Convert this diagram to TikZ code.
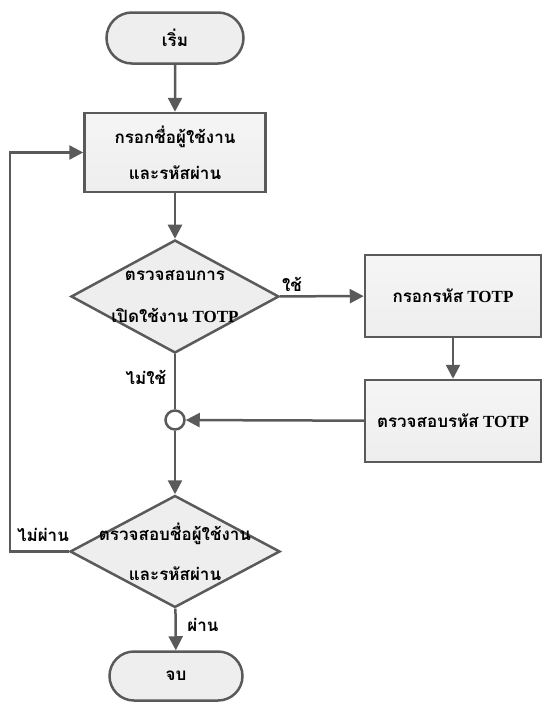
\documentclass[tikz,border=0pt]{standalone}
\usepackage{fontspec}
\setmainfont{Liberation Serif}
\newfontfamily\thaifont[Script=Thai]{Loma}
\usetikzlibrary{arrows.meta,positioning,shapes.geometric,shapes.misc}
\definecolor{flowgray}{HTML}{5A5A5A}
\definecolor{flowfill}{HTML}{EEEEEE}
\newcommand{\thai}[1]{{\thaifont #1}}
\tikzset{terminal/.style={rounded rectangle,draw=flowgray,fill=flowfill,
 line width=2.5pt,minimum width=137pt,minimum height=51pt,inner sep=0pt},
 stepbox/.style={rectangle,draw=flowgray,top color=flowfill!60,bottom color=flowfill,
 line width=2.5pt,minimum width=181pt,minimum height=79pt,inner sep=0pt},
 decision/.style={diamond,draw=flowgray,fill=flowfill,line width=2.5pt,
 minimum width=208pt,minimum height=113pt,inner sep=0pt},
 junction/.style={circle,draw=flowgray,fill=white,line width=2.5pt,
 minimum size=19pt,inner sep=0pt},
 flowtext/.style={font=\bfseries\fontsize{17}{36}\selectfont,align=center,text=black},
 choice/.style={font=\bfseries\fontsize{17}{20}\selectfont,text=black,inner sep=0pt},
 flow/.style={draw=flowgray,line width=2.5pt,-{Triangle[length=14pt,width=14pt]}},
 link/.style={draw=flowgray,line width=2.5pt}}

\begin{document}
\begin{tikzpicture}[x=1pt,y=-1pt]
 \useasboundingbox (0,0) rectangle (546,704);
 \node[terminal,flowtext] (start) at (175,38) {\thai{เริ่ม}};
 \node[stepbox,flowtext] (login) at (175,152.5)
  {\thai{กรอกชื่อผู้ใช้งาน}\\\thai{และรหัสผ่าน}};
 \node[decision] (checktotp) at (175,296.5) {};
 \node[flowtext,font=\bfseries\fontsize{17}{42}\selectfont] (checktotptext) at (checktotp)
  {\thai{ตรวจสอบการ}\\\thai{เปิดใช้งาน} TOTP};
 \node[stepbox,flowtext,minimum width=176pt,minimum height=82pt] (entertotp) at (453,296)
  {\thai{กรอกรหัส} TOTP};
 \node[stepbox,flowtext,minimum width=176pt,minimum height=82pt] (verifytotp) at (453,421)
  {\thai{ตรวจสอบรหัส} TOTP};
 \node[junction] (join) at (175,420) {};
 \node[decision,minimum width=210pt,minimum height=112pt] (checklogin) at (175,551.5) {};
 \node[flowtext,font=\bfseries\fontsize{17}{40}\selectfont] (checklogintext) at (checklogin)
  {\thai{ตรวจสอบชื่อผู้ใช้งาน}\\\thai{และรหัสผ่าน}};
 \node[terminal,flowtext,minimum width=133pt,minimum height=49pt] (finish) at (176,676)
  {\thai{จบ}};
 \coordinate (loopcorner) at (10,551.5);

 \draw[flow] (start) -- (login);
 \draw[flow] (login) -- (checktotp);
 \draw[flow] (checktotp) -- (entertotp);
 \draw[flow] (entertotp) -- (verifytotp);
 \draw[flow] (verifytotp) -- (join);
 \draw[link] (checktotp) -- (join);
 \draw[flow] (join) -- (checklogin);
 \draw[flow] (checklogin) -- (finish);
 \draw[flow] (checklogin.west) -- (loopcorner) |- (login.west);

 \node[choice] (yes) at (292,284) {\thai{ใช้}};
 \node[choice] (no) at (146,377) {\thai{ไม่ใช้}};
 \node[choice] (fail) at (43,535) {\thai{ไม่ผ่าน}};
 \node[choice] (pass) at (203,625) {\thai{ผ่าน}};
\end{tikzpicture}
\end{document}
